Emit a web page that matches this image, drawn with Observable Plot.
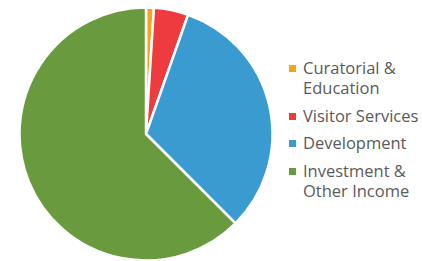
<!DOCTYPE html>
<html><head><meta charset="utf-8">
<script src="https://cdn.jsdelivr.net/npm/d3@7"></script>
<script src="https://cdn.jsdelivr.net/npm/@observablehq/plot@0.6"></script>
<style>
body{margin:0;background:#fff;font-family:"Open Sans",Lato,sans-serif;}
#wrap{position:relative;width:422px;height:261px;}
#legend{position:absolute;left:289px;top:58px;width:133px;color:#5a5a5a;font-size:16.5px;line-height:20px;}
.item{display:flex;align-items:flex-start;margin-bottom:7.6px;}
.sw{width:7px;height:7px;margin-top:7px;margin-right:7px;flex:none;}
</style></head>
<body><div id="wrap"><div id="chart"></div><div id="legend"></div></div>
<script>
const categories = ["Curatorial & Education","Visitor Services","Development","Investment & Other Income"];
const values = [1.0, 4.4, 32.1, 62.5];
const colors = ["#f8a31c","#ee3b3f","#3a9bd1","#6a9a3e"];

const data = categories.map((c,i)=>({category:c, value:values[i]}));

const pieMark = (index, scales, vals, dims, context) => {
  const cx = 146, cy = 134, r = 126.5;
  const arcs = d3.pie().sort(null).value(d=>d.value)(data);
  const arc = d3.arc().innerRadius(0).outerRadius(r);
  const g = d3.create("svg:g").attr("transform",`translate(${cx},${cy})`);
  g.selectAll("path").data(arcs).join("path")
    .attr("d",arc)
    .attr("fill",d=>scales.color(d.data.category))
    .attr("stroke","#fff").attr("stroke-width",2.5).attr("stroke-linejoin","round");
  return g.node();
};

const plot = Plot.plot({
  width: 290, height: 261, margin: 0,
  x:{axis:null}, y:{axis:null},
  color:{domain:categories, range:colors},
  marks:[pieMark]
});
document.getElementById("chart").appendChild(plot);

const leg = d3.select("#legend");
categories.forEach((c,i)=>{
  const it = leg.append("div").attr("class","item");
  it.append("div").attr("class","sw").style("background",plot.scale("color").apply(c));
  it.append("div").text(c);
});
</script></body></html>
